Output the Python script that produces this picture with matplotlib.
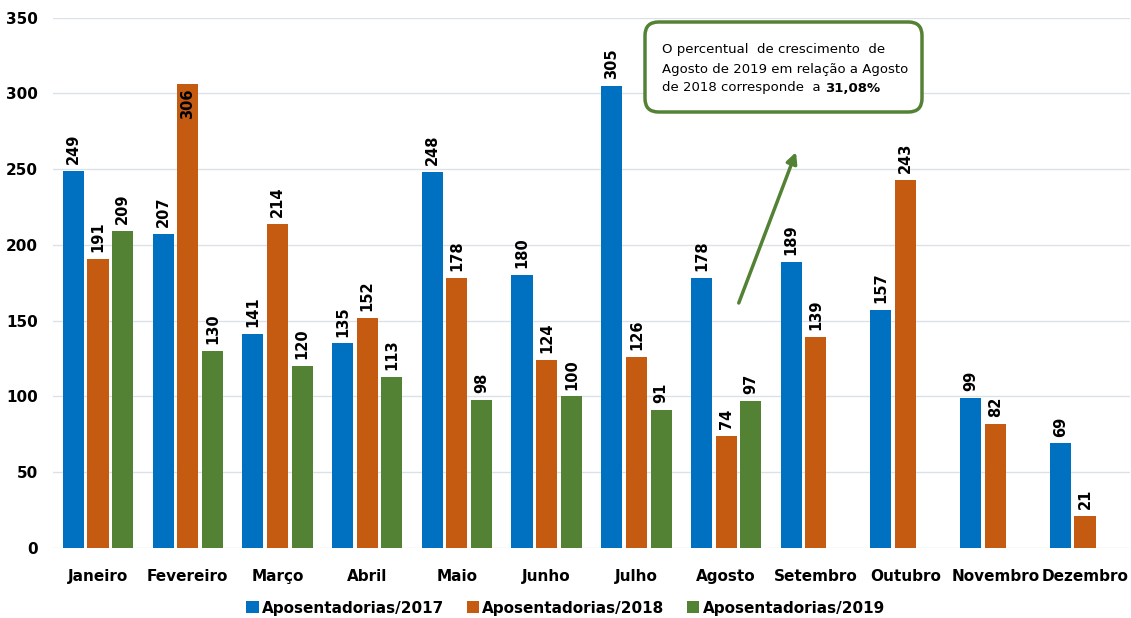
import numpy as np
import matplotlib.pyplot as plt
from matplotlib.patches import FancyBboxPatch
from matplotlib.text import Annotation

meses = ['Janeiro', 'Fevereiro', 'Março', 'Abril', 'Maio', 'Junho', 'Julho',
         'Agosto', 'Setembro', 'Outubro', 'Novembro', 'Dezembro']
ap2017 = [249, 207, 141, 135, 248, 180, 305, 178, 189, 157, 99, 69]
ap2018 = [191, 306, 214, 152, 178, 124, 126, 74, 139, 243, 82, 21]
ap2019 = [209, 130, 120, 113, 98, 100, 91, 97]

series = [('Aposentadorias/2017', ap2017, '#0070C0'),
          ('Aposentadorias/2018', ap2018, '#C55A11'),
          ('Aposentadorias/2019', ap2019, '#548235')]

fig = plt.figure(figsize=(11.31, 6.18), dpi=100)
ax = fig.add_axes([0.047, 0.1133, 0.952, 0.858])

step = 0.275
width = 0.235
for i, (name, vals, color) in enumerate(series):
    x = np.arange(len(vals)) + (i - 1) * step
    ax.bar(x, vals, width, color=color, label=name, zorder=3)
    for xi, v in zip(x, vals):
        # o maior valor nao cabe acima da barra: rotulo dentro
        if v > 305:
            ax.annotate(str(v), (xi, v), xytext=(0, -3), textcoords='offset points',
                        rotation=90, ha='center', va='top',
                        fontsize=10.5, fontweight='bold', zorder=4)
        else:
            ax.annotate(str(v), (xi, v), xytext=(0, 5), textcoords='offset points',
                        rotation=90, ha='center', va='bottom',
                        fontsize=10.5, fontweight='bold', zorder=4)

ax.set_xlim(-0.5, 11.5)
ax.set_ylim(0, 350)
ax.set_yticks(np.arange(0, 351, 50))
ax.set_xticks(np.arange(len(meses)))
ax.set_xticklabels(meses)
ax.grid(axis='y', color='#DCE1E8', linewidth=1, zorder=0)
for s in ax.spines.values():
    s.set_visible(False)
ax.tick_params(length=0, labelsize=11)
ax.tick_params(axis='x', pad=15)
ax.tick_params(axis='y', pad=11)
for lab in ax.get_xticklabels() + ax.get_yticklabels():
    lab.set_fontweight('bold')

# seta e caixa de comentario
ax.annotate('', xy=(7.79, 263), xytext=(7.13, 160),
            arrowprops=dict(arrowstyle='-|>', color='#548235', lw=2.5,
                            mutation_scale=16), zorder=5)

box = FancyBboxPatch((645 / 1131, 1 - 112 / 618), 277 / 1131, 90 / 618,
                     boxstyle='round,pad=0,rounding_size=0.012',
                     mutation_aspect=1131 / 618, transform=fig.transFigure,
                     facecolor='white', edgecolor='#548235', linewidth=2.5,
                     zorder=1)
fig.add_artist(box)
linhas = ['O percentual  de crescimento  de',
          'Agosto de 2019 em relação a Agosto',
          'de 2018 corresponde  a ']
for k, linha in enumerate(linhas):
    t = fig.text(662 / 1131, 1 - (50 + 19 * k) / 618, linha,
                 fontsize=9.5, va='center', ha='left', zorder=2)
destaque = Annotation('31,08%', xy=(1, 0), xycoords=t, ha='left', va='bottom',
                      fontsize=9.5, fontweight='bold', zorder=2)
fig.add_artist(destaque)

fig.legend(loc='center', bbox_to_anchor=(0.5, 1 - 608 / 618), ncol=3,
           frameon=False, handlelength=0.8, handleheight=0.8,
           handletextpad=0.2, columnspacing=1.5,
           prop={'size': 11, 'weight': 'bold'})

fig.savefig('out.png', dpi=100)
